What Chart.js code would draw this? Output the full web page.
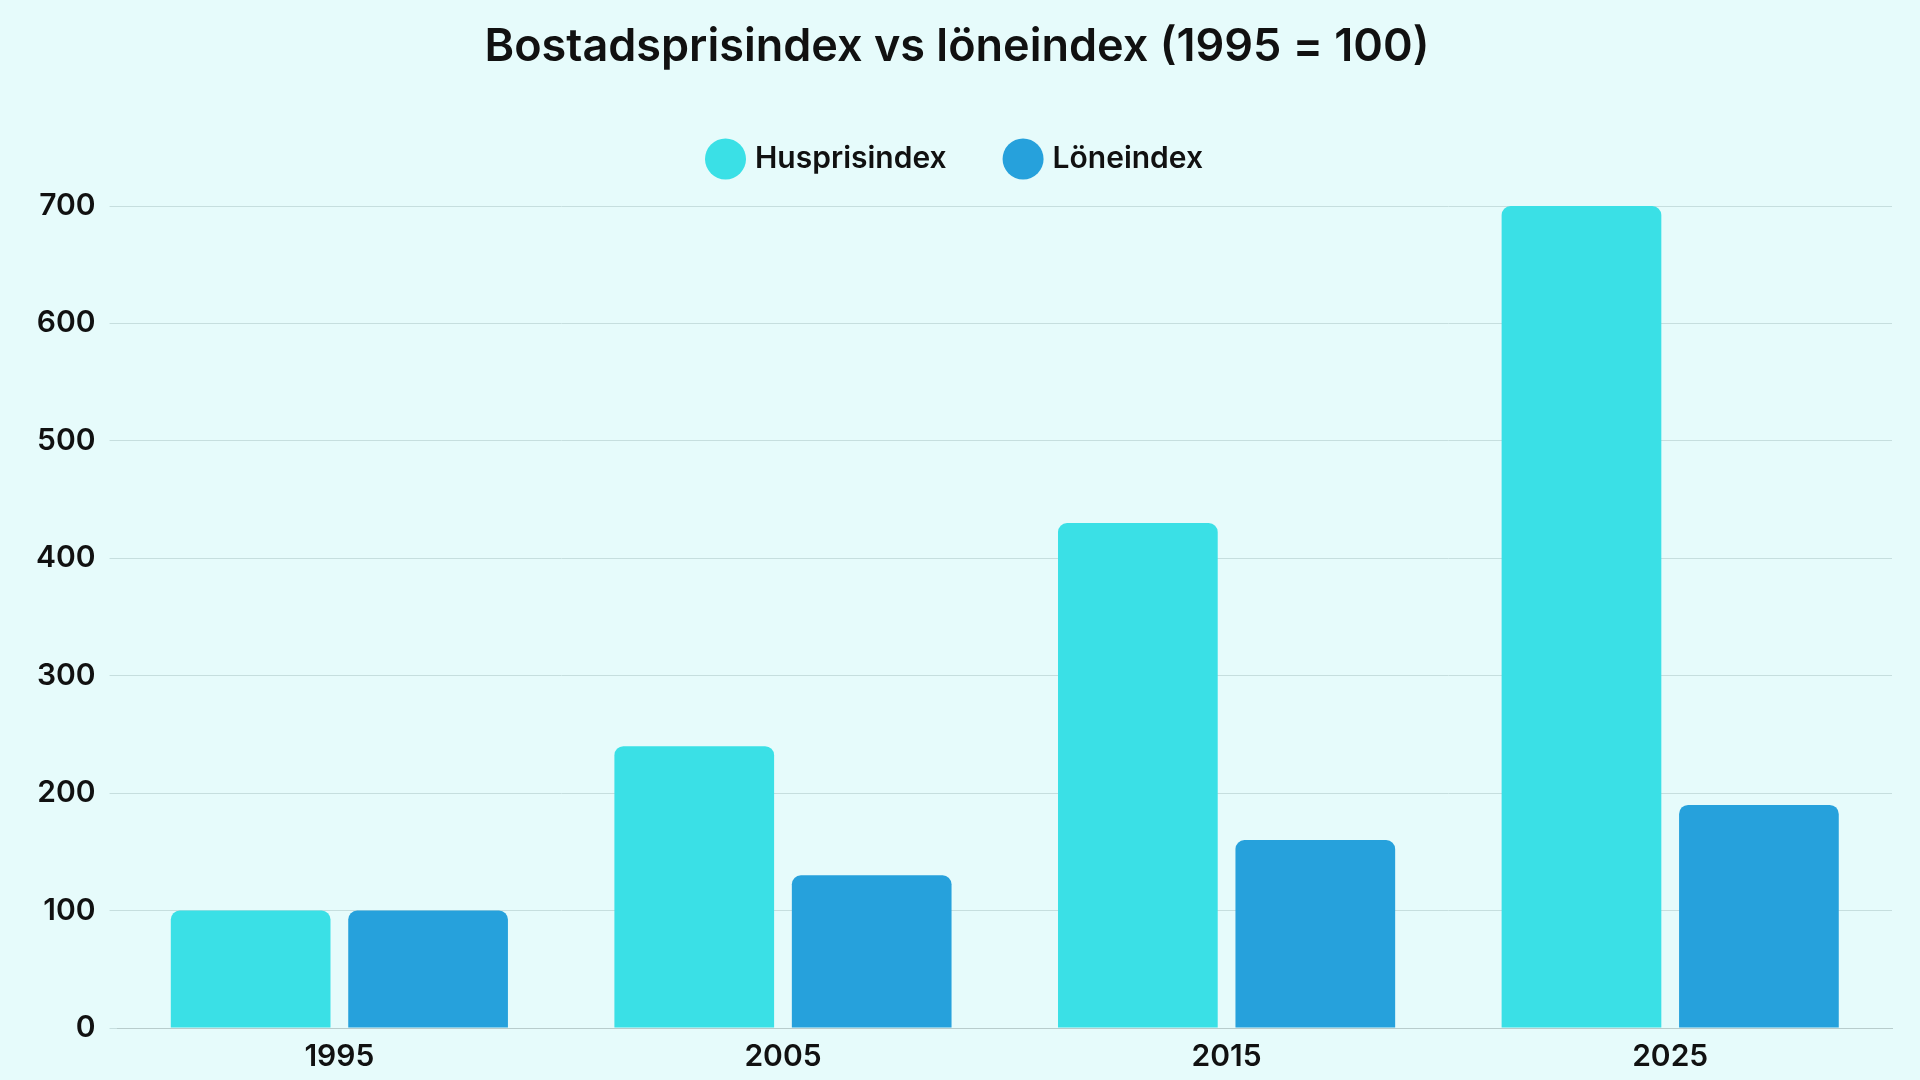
<!DOCTYPE html>
<html>
<head>
<meta charset="utf-8">
<script src="https://cdn.jsdelivr.net/npm/chart.js@4"></script>
<style>
  html, body { margin: 0; padding: 0; background: #e6fbfb; }
  #wrap { width: 1920px; height: 1080px; }
</style>
</head>
<body>
<div id="wrap"><canvas id="chart" width="1920" height="1080"></canvas></div>
<script>
const years = ['1995', '2005', '2015', '2025'];
const husprisindex = [100, 240, 430, 700];
const loneindex = [100, 130, 160, 190];

Chart.defaults.font.family = 'Inter, "Noto Sans", sans-serif';
Chart.defaults.color = '#111';

// extra space under the legend
const legendSpacer = {
    id: 'legendSpacer',
    beforeInit(chart) {
        const fit = chart.legend.fit;
        chart.legend.fit = function () {
            fit.bind(chart.legend)();
            this.height += 22;
        };
    }
};

new Chart(document.getElementById('chart').getContext('2d'), {
    type: 'bar',
    data: {
        labels: years,
        datasets: [
            { label: 'Husprisindex', data: husprisindex, backgroundColor: '#3ae0e6', borderRadius: 9, borderSkipped: 'bottom' },
            { label: 'Löneindex', data: loneindex, backgroundColor: '#26a1dc', borderRadius: 9, borderSkipped: 'bottom' }
        ]
    },
    plugins: [legendSpacer],
    options: {
        responsive: false,
        animation: false,
        layout: { padding: { left: 22, right: 28, top: 16, bottom: 2 } },
        plugins: {
            title: {
                display: true,
                text: 'Bostadsprisindex vs löneindex (1995 = 100)',
                font: { size: 45, weight: '600' },
                color: '#111',
                padding: { top: 4, bottom: 8 }
            },
            legend: {
                labels: {
                    usePointStyle: true,
                    pointStyle: 'circle',
                    boxWidth: 29,
                    boxHeight: 29,
                    padding: 62,
                    font: { size: 30, weight: '600' }
                }
            },
            tooltip: { enabled: false }
        },
        scales: {
            x: {
                grid: { display: false },
                border: { color: '#b8cccc' },
                ticks: { font: { size: 30, weight: '600' } },
                categoryPercentage: 0.96,
                barPercentage: 0.97
            },
            y: {
                min: 0,
                max: 700,
                ticks: { stepSize: 100, font: { size: 30, weight: '600' }, padding: 14 },
                grid: { color: '#c6dede' },
                border: { display: false }
            }
        }
    }
});
</script>
</body>
</html>
